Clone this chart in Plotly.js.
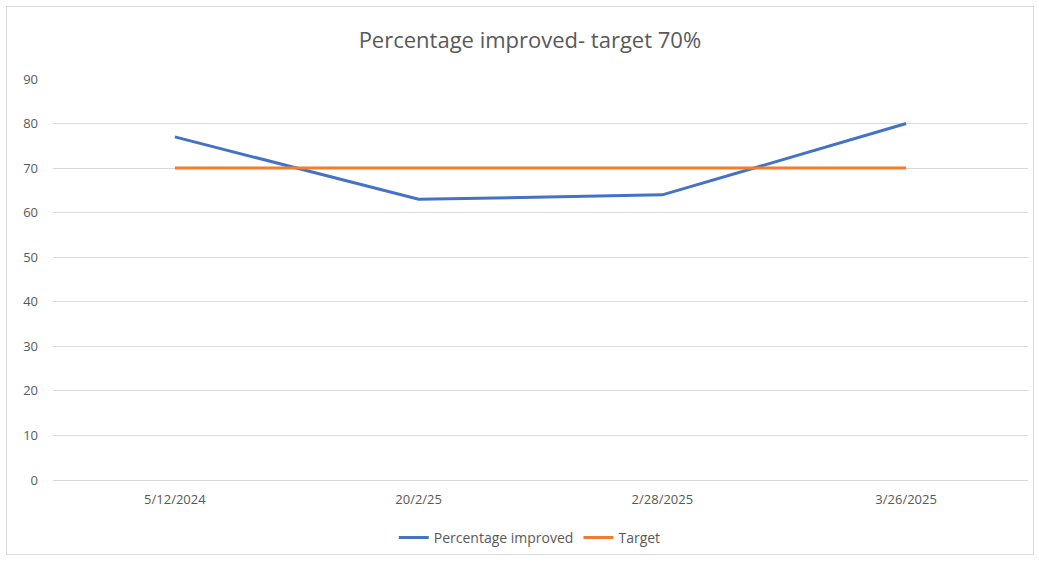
<!DOCTYPE html>
<html>
<head>
<meta charset="utf-8">
<script src="https://cdn.plot.ly/plotly-3.0.1.min.js"></script>
<style>
html,body{margin:0;padding:0;background:#fff;}
#wrap{position:relative;width:1039px;height:562px;}
#frame{position:absolute;left:6px;top:6px;width:1028px;height:549px;border:1px solid #d9d9d9;box-sizing:border-box;pointer-events:none;}
#chart{position:absolute;left:0;top:0;width:1039px;height:562px;}
</style>
</head>
<body>
<div id="wrap"><div id="chart"></div><div id="frame"></div></div>
<script>
const categories = ["5/12/2024", "20/2/25", "2/28/2025", "3/26/2025"];
const percentageImproved = [77, 63, 64, 80];
const target = [70, 70, 70, 70];
const yTicks = [0, 10, 20, 30, 40, 50, 60, 70, 80, 90];

const font = "Open Sans, Noto Sans, sans-serif";
const traces = [
  {x: categories, y: percentageImproved, name: "Percentage improved", type: "scatter", mode: "lines",
   line: {color: "#4472C4", width: 3}},
  {x: categories, y: target, name: "Target", type: "scatter", mode: "lines",
   line: {color: "#ED7D31", width: 3}}
];
const layout = {
  width: 1039, height: 562,
  margin: {l: 53, r: 11, t: 79, b: 82},
  paper_bgcolor: "#fff", plot_bgcolor: "#fff",
  font: {family: font, color: "#595959", size: 13},
  title: {text: "Percentage improved- target 70%", x: 0.51, xanchor: "center", y: 0.928, yanchor: "middle",
          font: {family: font, size: 22, color: "#595959"}},
  xaxis: {type: "category", range: [-0.5, 3.5], showgrid: false, zeroline: false, showline: false,
          automargin: false, ticks: "", ticklabelstandoff: 10, tickfont: {size: 13, color: "#595959"}},
  yaxis: {range: [0, 90], tickvals: yTicks, showgrid: true, gridcolor: "#d9d9d9", gridwidth: 1,
          automargin: false, zeroline: true, zerolinecolor: "#d9d9d9", zerolinewidth: 1, showline: false, ticks: "",
          ticklabelstandoff: 14, tickfont: {size: 13, color: "#595959"}},
  showlegend: true,
  legend: {orientation: "h", x: 0.489, xanchor: "center", yref: "container", y: 0.043, yanchor: "middle",
           font: {size: 14, color: "#595959"}, itemwidth: 30, tracegroupgap: 0}
};
Plotly.newPlot("chart", traces, layout, {displayModeBar: false, staticPlot: true});
</script>
</body>
</html>
